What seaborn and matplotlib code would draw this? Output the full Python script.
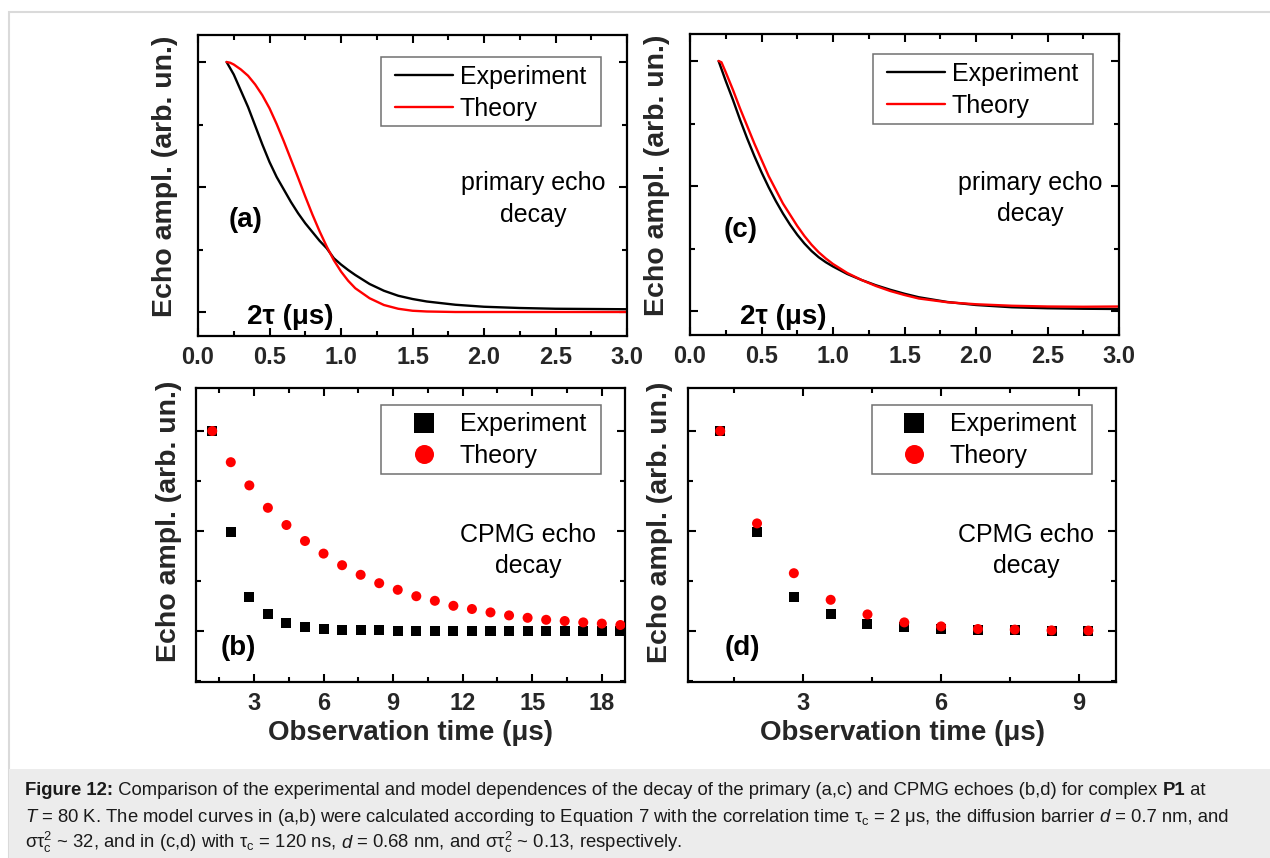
import matplotlib
matplotlib.use("Agg")
import numpy as np
import pandas as pd
import seaborn as sns
import matplotlib.pyplot as plt
from matplotlib.patches import Rectangle
from matplotlib.ticker import MultipleLocator, NullFormatter, FormatStrFormatter

# ---------------- data ----------------
# (a) primary echo decay, tau_c = 2 us
a_exp_x = [0.20, 0.25, 0.30, 0.35, 0.40, 0.45, 0.50, 0.55, 0.60, 0.65, 0.70, 0.75, 0.80, 0.85,
           0.90, 0.95, 1.00, 1.05, 1.10, 1.20, 1.30, 1.40, 1.50, 1.60, 1.80, 2.00, 2.25, 2.50, 2.75, 3.00]
a_exp_y = [1.00, 0.95, 0.885, 0.82, 0.745, 0.67, 0.60, 0.54, 0.49, 0.44, 0.395, 0.355, 0.32, 0.285,
           0.255, 0.215, 0.19, 0.168, 0.148, 0.112, 0.085, 0.065, 0.052, 0.042, 0.029, 0.021, 0.016, 0.013, 0.012, 0.011]
a_th_x = [0.20, 0.225, 0.25, 0.30, 0.35, 0.40, 0.45, 0.50, 0.55, 0.60, 0.65, 0.70, 0.75, 0.80, 0.85,
          0.90, 0.95, 1.00, 1.05, 1.10, 1.20, 1.30, 1.40, 1.50, 1.60, 1.80, 3.00]
a_th_y = [1.00, 0.997, 0.99, 0.97, 0.945, 0.91, 0.867, 0.815, 0.752, 0.683, 0.61, 0.537, 0.462, 0.39, 0.323,
          0.262, 0.207, 0.162, 0.125, 0.095, 0.055, 0.028, 0.013, 0.005, 0.002, 0.0, 0.0]

# (c) primary echo decay, tau_c = 120 ns
c_exp_x = [0.20, 0.25, 0.30, 0.35, 0.40, 0.45, 0.50, 0.55, 0.60, 0.65, 0.70, 0.75, 0.80, 0.85,
           0.90, 0.95, 1.00, 1.10, 1.20, 1.30, 1.40, 1.50, 1.60, 1.80, 2.00, 2.25, 2.50, 2.75, 3.00]
c_exp_y = [1.00, 0.92, 0.845, 0.765, 0.69, 0.62, 0.555, 0.495, 0.44, 0.39, 0.345, 0.305, 0.27, 0.24,
           0.215, 0.195, 0.178, 0.148, 0.124, 0.103, 0.085, 0.069, 0.055, 0.036, 0.024, 0.015, 0.011, 0.009, 0.008]
c_th_x = [0.20, 0.22, 0.25, 0.30, 0.35, 0.40, 0.45, 0.50, 0.55, 0.60, 0.65, 0.70, 0.75, 0.80, 0.85,
          0.90, 0.95, 1.00, 1.10, 1.20, 1.30, 1.40, 1.50, 1.60, 1.80, 2.00, 2.25, 2.50, 2.75, 3.00]
c_th_y = [1.00, 0.995, 0.955, 0.885, 0.81, 0.74, 0.67, 0.605, 0.54, 0.485, 0.43, 0.385, 0.34, 0.30, 0.265,
          0.235, 0.21, 0.188, 0.152, 0.124, 0.10, 0.08, 0.064, 0.05, 0.035, 0.027, 0.021, 0.018, 0.017, 0.018]

# (b) CPMG echo decay, tau_c = 2 us
b_t = [1.2, 2.0, 2.8, 3.6, 4.4, 5.2, 6.0, 6.8, 7.6, 8.4, 9.2, 10.0, 10.8, 11.6, 12.4, 13.2,
       14.0, 14.8, 15.6, 16.4, 17.2, 18.0, 18.8]
b_exp = [1.0, 0.495, 0.169, 0.086, 0.040, 0.020, 0.010, 0.005, 0.004, 0.003, 0.002, 0.002, 0.001,
         0.001, 0.001, 0.0, 0.0, 0.0, 0.0, 0.0, 0.0, 0.0, 0.0]
b_th = [1.0, 0.844, 0.728, 0.616, 0.530, 0.450, 0.387, 0.329, 0.281, 0.239, 0.206, 0.174, 0.151,
        0.126, 0.110, 0.093, 0.078, 0.066, 0.056, 0.050, 0.043, 0.037, 0.030]

# (d) CPMG echo decay, tau_c = 120 ns
d_t = [1.2, 2.0, 2.8, 3.6, 4.4, 5.2, 6.0, 6.8, 7.6, 8.4, 9.2]
d_exp = [1.0, 0.495, 0.169, 0.083, 0.037, 0.018, 0.008, 0.005, 0.003, 0.002, 0.002]
d_th = [1.0, 0.538, 0.289, 0.156, 0.083, 0.043, 0.023, 0.010, 0.007, 0.003, 0.002]

series_names = ["Experiment", "Theory"]
palette = {"Experiment": "black", "Theory": "red"}

# ---------------- style ----------------
sns.set_theme(style="ticks")
plt.rcParams['font.family'] = ['Liberation Sans', 'DejaVu Sans']
plt.rcParams['mathtext.fontset'] = 'custom'
plt.rcParams['mathtext.rm'] = 'Liberation Sans'
plt.rcParams['mathtext.it'] = 'Liberation Sans:italic'
plt.rcParams['mathtext.bf'] = 'Liberation Sans:bold'
plt.rcParams['text.color'] = 'black'

W, H = 1270, 858
fig = plt.figure(figsize=(W / 100, H / 100), dpi=100)
fig.patch.set_facecolor('white')


def box(l, t, r, b):
    return [l / W, 1 - b / H, (r - l) / W, (b - t) / H]


def style_axes(ax, xmaj, xmin_, fmt):
    for s in ax.spines.values():
        s.set_linewidth(1.6)
        s.set_color('black')
        s.set_visible(True)
    ax.xaxis.set_major_locator(MultipleLocator(xmaj))
    ax.xaxis.set_minor_locator(MultipleLocator(xmin_))
    ax.yaxis.set_major_locator(MultipleLocator(0.5))
    ax.yaxis.set_minor_locator(MultipleLocator(0.25))
    ax.yaxis.set_major_formatter(NullFormatter())
    if fmt:
        ax.xaxis.set_major_formatter(FormatStrFormatter(fmt))
    ax.tick_params(which='both', direction='in', top=True, right=True, width=1.5, color='black')
    ax.tick_params(which='major', length=6, pad=7)
    ax.tick_params(which='minor', length=3.5)
    for lab in ax.get_xticklabels():
        lab.set_fontsize(17)
        lab.set_fontweight('bold')
    ax.set_facecolor('white')
    ax.grid(False)


def add_legend(ax, ax_l, ax_b, ax_w, ax_h, box_px, anchor_px, markerscale=1.0, spacing=0.32):
    leg = ax.get_legend()
    handles = leg.legend_handles
    labels = [t.get_text() for t in leg.get_texts()]
    leg.remove()
    x0, y0, x1, y1 = box_px
    rect = Rectangle(((x0 - ax_l) / ax_w, (ax_b - y1) / ax_h), (x1 - x0) / ax_w, (y1 - y0) / ax_h,
                     transform=ax.transAxes, fill=False, edgecolor='#707070', lw=1.1, zorder=5)
    ax.add_patch(rect)
    ax.legend(handles, labels, loc='center left',
              bbox_to_anchor=((anchor_px[0] - ax_l) / ax_w, (ax_b - anchor_px[1]) / ax_h),
              frameon=False, fontsize=18, borderpad=0, borderaxespad=0, handlelength=2.3,
              handletextpad=0.28, labelspacing=spacing, markerscale=markerscale)


# ---------- panel (a) ----------
ax_a = fig.add_axes(box(198, 35, 627, 336))
df_a = pd.DataFrame({
    "x": a_exp_x + a_th_x,
    "y": a_exp_y + a_th_y,
    "series": ["Experiment"] * len(a_exp_x) + ["Theory"] * len(a_th_x),
})
sns.lineplot(data=df_a, x="x", y="y", hue="series", palette=palette, hue_order=series_names,
             estimator=None, sort=False, lw=1.7, ax=ax_a)
ax_a.set_xlim(0.0, 3.0)
ax_a.set_ylim(-0.096, 1.108)
style_axes(ax_a, 0.5, 0.25, '%.1f')
ax_a.set_xlabel("")
ax_a.set_ylabel("Echo ampl. (arb. un.)", fontsize=20.5, fontweight='bold')
ax_a.yaxis.label.set_va('center')
ax_a.yaxis.set_label_coords((165 - 198) / 429, (336 - 176.5) / 301)
add_legend(ax_a, 198, 336, 429, 301, (381, 57, 601, 126), (395, 93))

# ---------- panel (c) ----------
ax_c = fig.add_axes(box(690, 34, 1119, 335))
df_c = pd.DataFrame({
    "x": c_exp_x + c_th_x,
    "y": c_exp_y + c_th_y,
    "series": ["Experiment"] * len(c_exp_x) + ["Theory"] * len(c_th_x),
})
sns.lineplot(data=df_c, x="x", y="y", hue="series", palette=palette, hue_order=series_names,
             estimator=None, sort=False, lw=1.7, ax=ax_c)
ax_c.set_xlim(0.0, 3.0)
ax_c.set_ylim(-0.096, 1.108)
style_axes(ax_c, 0.5, 0.25, '%.1f')
ax_c.set_xlabel("")
ax_c.set_ylabel("Echo ampl. (arb. un.)", fontsize=20.5, fontweight='bold')
ax_c.yaxis.label.set_va('center')
ax_c.yaxis.set_label_coords((657 - 690) / 429, (335 - 175) / 301)
add_legend(ax_c, 690, 335, 429, 301, (873, 54, 1093, 124), (887, 90))

# ---------- panel (b) ----------
ax_b = fig.add_axes(box(196, 388, 625, 682))
df_b = pd.DataFrame({
    "t": b_t + b_t,
    "amp": b_exp + b_th,
    "series": ["Experiment"] * len(b_t) + ["Theory"] * len(b_t),
})
sns.scatterplot(data=df_b, x="t", y="amp", hue="series", style="series", palette=palette,
                hue_order=series_names, markers={"Experiment": "s", "Theory": "o"},
                s=52, linewidth=0, ax=ax_b, zorder=3)
ax_b.set_xlim(0.5, 19.0)
ax_b.set_ylim(-0.255, 1.215)
style_axes(ax_b, 3, 1.5, '%d')
ax_b.set_xlabel("Observation time (μs)", fontsize=20, fontweight='bold')
ax_b.xaxis.label.set_va('center')
ax_b.xaxis.set_label_coords(0.5, (682 - 733) / 294)
ax_b.set_ylabel("Echo ampl. (arb. un.)", fontsize=20.5, fontweight='bold')
ax_b.yaxis.label.set_va('center')
ax_b.yaxis.set_label_coords((169 - 196) / 429, (682 - 521.5) / 294)
add_legend(ax_b, 196, 682, 429, 294, (381, 405, 601, 474), (395, 440), markerscale=1.9, spacing=0.28)

# ---------- panel (d) ----------
ax_d = fig.add_axes(box(688, 388, 1116, 682))
df_d = pd.DataFrame({
    "t": d_t + d_t,
    "amp": d_exp + d_th,
    "series": ["Experiment"] * len(d_t) + ["Theory"] * len(d_t),
})
sns.scatterplot(data=df_d, x="t", y="amp", hue="series", style="series", palette=palette,
                hue_order=series_names, markers={"Experiment": "s", "Theory": "o"},
                s=52, linewidth=0, ax=ax_d, zorder=3)
ax_d.set_xlim(0.5, 9.8)
ax_d.set_ylim(-0.255, 1.215)
style_axes(ax_d, 3, 1.5, '%d')
ax_d.set_xlabel("Observation time (μs)", fontsize=20, fontweight='bold')
ax_d.xaxis.label.set_va('center')
ax_d.xaxis.set_label_coords(0.5, (682 - 733) / 294)
ax_d.set_ylabel("Echo ampl. (arb. un.)", fontsize=20.5, fontweight='bold')
ax_d.yaxis.label.set_va('center')
ax_d.yaxis.set_label_coords((660 - 688) / 428, (682 - 522.5) / 294)
add_legend(ax_d, 688, 682, 428, 294, (872, 405, 1092, 474), (885.5, 440), markerscale=1.9, spacing=0.28)

# ---------- annotations ----------
for ax, lx, ly, tx, ty, letter, txt in [
    (ax_a, 0.112, 0.385, 0.781, 0.455, "(a)", "primary echo\ndecay"),
    (ax_c, 0.117, 0.349, 0.793, 0.453, "(c)", "primary echo\ndecay"),
    (ax_b, 0.098, 0.116, 0.774, 0.448, "(b)", "CPMG echo\ndecay"),
    (ax_d, 0.128, 0.116, 0.790, 0.447, "(d)", "CPMG echo\ndecay"),
]:
    ax.text(lx, ly, letter, transform=ax.transAxes, fontsize=20, fontweight='bold',
            ha='center', va='center')
    ax.text(tx, ty, txt, transform=ax.transAxes, fontsize=18, ha='center', va='center',
            linespacing=1.38)

ax_a.text((247 - 198) / 429, (336 - 317) / 301, "2τ (μs)", transform=ax_a.transAxes,
          fontsize=20, fontweight='bold', ha='left', va='center')
ax_c.text((740 - 690) / 429, (335 - 317) / 301, "2τ (μs)", transform=ax_c.transAxes,
          fontsize=20, fontweight='bold', ha='left', va='center')

# ---------- frame and caption ----------
fig.patches.append(Rectangle((9 / W, -0.05), 1.2, 1 - 12 / H + 0.05, transform=fig.transFigure,
                             fill=False, edgecolor='#dadada', lw=1.5, zorder=0))
fig.patches.append(Rectangle((9 / W, -0.05), 1.2, (858 - 769) / H + 0.05, transform=fig.transFigure,
                             facecolor='#ececec', edgecolor='none', zorder=0))

CAP_SIZE = 13.3
CAP_COLOR = '#1a1a1a'
renderer = fig.canvas.get_renderer()


def run_width(s, kw):
    t1 = fig.text(0, 0, "|" + s + "|", fontsize=CAP_SIZE, **kw)
    w1 = t1.get_window_extent(renderer=renderer).width
    t1.remove()
    t0 = fig.text(0, 0, "||", fontsize=CAP_SIZE, **kw)
    w0 = t0.get_window_extent(renderer=renderer).width
    t0.remove()
    return w1 - w0


def draw_runs(x_px, y_px, runs):
    x = x_px
    for s, kw in runs:
        fig.text(x / W, 1 - y_px / H, s, fontsize=CAP_SIZE, color=CAP_COLOR,
                 ha='left', va='baseline', **kw)
        x += run_width(s, kw)


BOLD = {'fontweight': 'bold'}
ITAL = {'fontstyle': 'italic'}
NORM = {}
cap_lines = [
    (795, [("Figure 12:", BOLD),
           (" Comparison of the experimental and model dependences of the decay of the primary (a,c) "
            "and CPMG echoes (b,d) for complex ", NORM),
           ("P1", BOLD), (" at", NORM)]),
    (821.5, [("T", ITAL),
             (r" = 80 K. The model curves in (a,b) were calculated according to Equation 7 with the "
              r"correlation time τ$_\mathrm{c}$ = 2 μs, the diffusion barrier ", NORM),
             ("d", ITAL), (" = 0.7 nm, and", NORM)]),
    (848, [(r"στ$_\mathrm{c}^2$ ~ 32, and in (c,d) with τ$_\mathrm{c}$ = 120 ns, ", NORM),
           ("d", ITAL),
           (r" = 0.68 nm, and στ$_\mathrm{c}^2$ ~ 0.13, respectively.", NORM)]),
]
for yb, runs in cap_lines:
    draw_runs(25, yb, runs)

fig.savefig("out.png", dpi=100, facecolor='white')
